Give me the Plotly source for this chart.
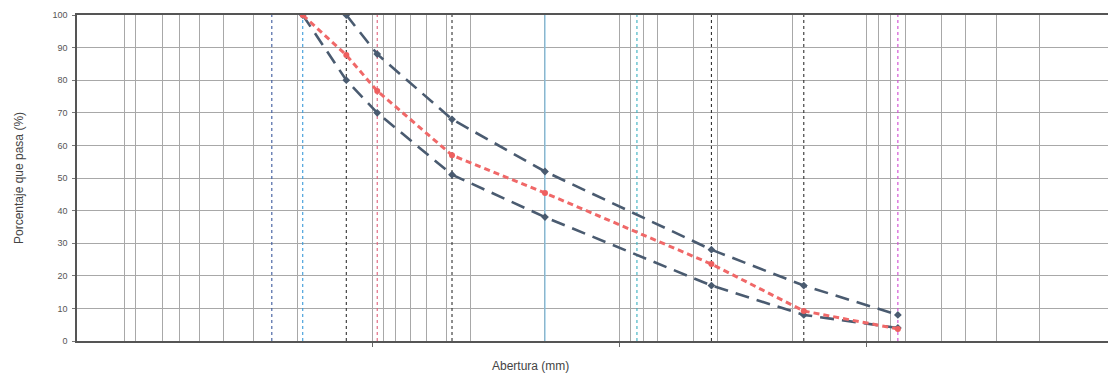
import plotly.graph_objects as go

# Sieve openings (mm) and percent passing
sieves_mm = [19.05, 12.7, 9.525, 4.75, 2.0, 0.425, 0.18, 0.075]
upper_limit = [None, 100, 88, 68, 52, 28, 17, 8]
lower_limit = [100, 80, 70, 51, 38, 17, 8, 4]
sample = [100, 87.7, 76.7, 57.0, 45.4, 23.6, 9.2, 3.7]

# Log grid of the semi-log sheet (decade ticks at 10, 1, 0.1)
decades = [10, 1, 0.1]
minor_grid = [100, 90, 70, 60, 50, 40, 30, 20,
              9, 8, 7, 6, 5, 4, 2,
              0.9, 0.8, 0.7, 0.5, 0.4, 0.2,
              0.09, 0.08, 0.07, 0.05, 0.04, 0.03, 0.02]

# Reference sieve lines: opening, colour
sieve_lines = [
    (25.4, "#3d5a9e"),
    (19.05, "#3a9ad9"),
    (12.7, "#333333"),
    (9.525, "#e0607a"),
    (4.75, "#333333"),
    (2.0, "#7cc0e4"),
    (0.85, "#3ab0c0"),
    (0.425, "#333333"),
    (0.18, "#333333"),
    (0.075, "#d04ad0"),
]

y_ticks = list(range(0, 101, 10))

fig = go.Figure()

for opening, colour in sieve_lines:
    fig.add_trace(go.Scatter(
        x=[opening, opening], y=[0, 100], mode="lines",
        line=dict(color=colour, width=1.1,
                  dash="solid" if opening == 2.0 else "dot"),
        showlegend=False, hoverinfo="skip"))

slate = "#4a5b70"
fig.add_trace(go.Scatter(
    x=sieves_mm, y=upper_limit, mode="lines+markers",
    line=dict(color=slate, width=2.6, dash="14px,8px"),
    marker=dict(symbol="diamond", size=6, color=slate),
    showlegend=False))
fig.add_trace(go.Scatter(
    x=sieves_mm, y=lower_limit, mode="lines+markers",
    line=dict(color=slate, width=2.6, dash="14px,8px"),
    marker=dict(symbol="diamond", size=6, color=slate),
    showlegend=False))
fig.add_trace(go.Scatter(
    x=sieves_mm, y=sample, mode="lines+markers",
    line=dict(color="#f06868", width=3, dash="6px,4px"),
    marker=dict(symbol="circle", size=6, color="#ee5f5f"),
    showlegend=False))

fig.update_layout(
    width=1109, height=376,
    margin=dict(l=77, r=1, t=15, b=35),
    paper_bgcolor="white", plot_bgcolor="white",
    font=dict(family="Liberation Sans, Arial, sans-serif", color="#555555"),
    xaxis=dict(
        type="log", range=[2.192, -1.974],
        tickvals=decades, showticklabels=False,
        ticks="outside", ticklen=4, tickcolor="#666666",
        showgrid=True, gridcolor="#a8a8a8", gridwidth=1,
        minor=dict(tickvals=minor_grid, showgrid=True,
                   gridcolor="#a8a8a8", gridwidth=1, ticks=""),
        showline=True, linecolor="#555555", linewidth=1.5, mirror=True,
        zeroline=False,
    ),
    yaxis=dict(
        range=[0, 100], tickvals=y_ticks,
        ticks="outside", ticklen=3, tickcolor="#777777",
        tickfont=dict(size=9, color="#555555"),
        ticklabelstandoff=3,
        showgrid=True, gridcolor="#a8a8a8", gridwidth=1,
        showline=True, linecolor="#555555", linewidth=1.5, mirror=False,
        zeroline=False,
        title=dict(text="Porcentaje que pasa (%)",
                   font=dict(size=12, color="#444444"), standoff=26),
    ),
    annotations=[dict(
        text="Abertura (mm)", showarrow=False,
        font=dict(size=12, color="#444444"))],
)

# place the x title in pixel terms
fig.layout.annotations[0].update(
    x=(530 - 77) / (1109 - 77 - 1), xref="paper",
    y=-(366 - 341) / (376 - 15 - 35), yref="paper",
    xanchor="center", yanchor="middle")

fig.write_html("out.html")
